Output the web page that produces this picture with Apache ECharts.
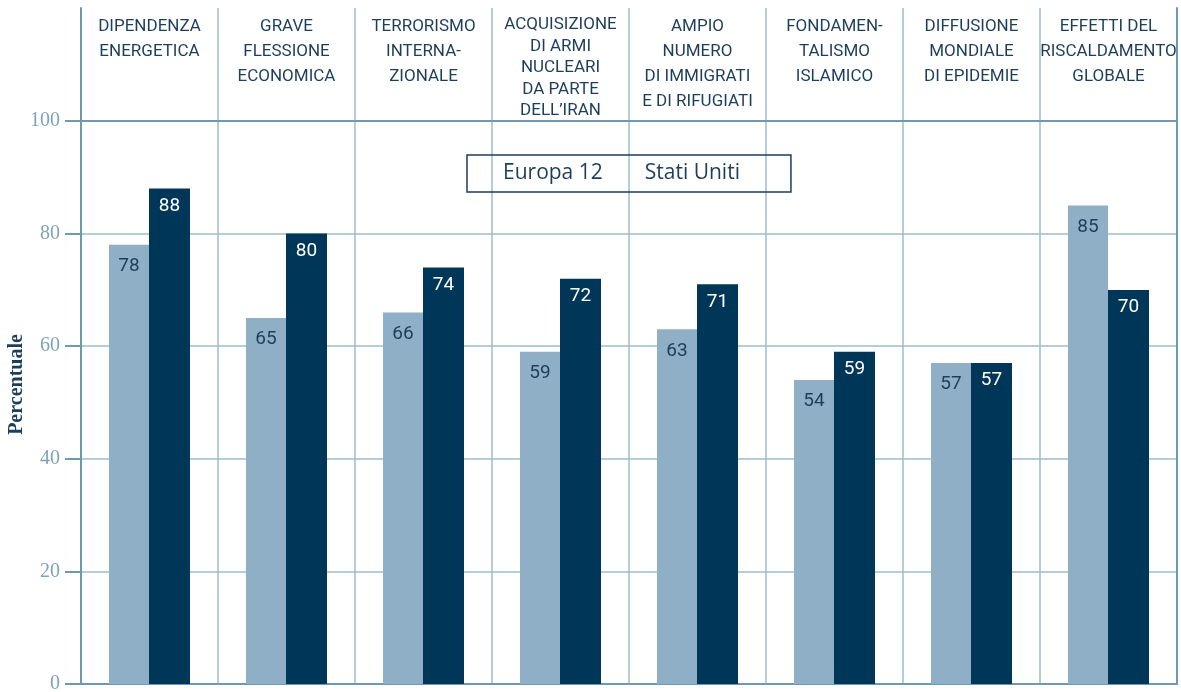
<!DOCTYPE html>
<html>
<head>
<meta charset="utf-8">
<script src="https://cdn.jsdelivr.net/npm/echarts@6/dist/echarts.min.js"></script>
<style>
  html, body { margin: 0; padding: 0; background: #fff; }
  #chart { width: 1181px; height: 692px; }
</style>
</head>
<body>
<div id="chart"></div>
<script>
// categorie (fascia in alto, su più righe)
var categorie = [
    'DIPENDENZA\nENERGETICA',
    'GRAVE\nFLESSIONE\nECONOMICA',
    'TERRORISMO\nINTERNA-\nZIONALE',
    'ACQUISIZIONE\nDI ARMI\nNUCLEARI\nDA PARTE\nDELL\u2019IRAN',
    'AMPIO\nNUMERO\nDI IMMIGRATI\nE DI RIFUGIATI',
    'FONDAMEN-\nTALISMO\nISLAMICO',
    'DIFFUSIONE\nMONDIALE\nDI EPIDEMIE',
    'EFFETTI DEL\nRISCALDAMENTO\nGLOBALE'
];
var europa12 = [78, 65, 66, 59, 63, 54, 57, 85];
var statiUniti = [88, 80, 74, 72, 71, 59, 57, 70];

var navy = '#1d3e5a';
var chiaro = '#8eafc5';
var scuro = '#003658';
var lineaAsse = '#6f99b3';
var lineaGriglia = '#9dbccd';

// asse solo-bordo (destra / sinistra della fascia)
function bordo(grid, pos) {
    return {
        type: 'value', gridIndex: grid, position: pos, min: 0, max: 1,
        axisLine: { show: true, lineStyle: { color: lineaAsse, width: 2 } },
        axisTick: { show: false }, axisLabel: { show: false }, splitLine: { show: false }
    };
}

var chart = echarts.init(document.getElementById('chart'));
var option = {
    animation: false,
    grid: [
        // fascia delle etichette
        { left: 81, right: 4, top: 8, height: 113, outerBoundsMode: 'none' },
        // area del grafico
        { left: 81, right: 4, top: 121, bottom: 8, outerBoundsMode: 'none' }
    ],
    legend: {
        data: ['Europa 12', 'Stati Uniti'],
        left: 467,
        top: 155,
        itemWidth: 0,
        itemHeight: 0,
        itemGap: 37,
        padding: [8, 51, 8, 31],
        borderColor: navy,
        borderWidth: 1.5,
        selectedMode: false,
        textStyle: { color: navy, fontSize: 21, fontFamily: 'Open Sans' }
    },
    xAxis: [
        {
            type: 'category',
            gridIndex: 0,
            data: categorie,
            position: 'top',
            axisLine: { show: true, lineStyle: { color: lineaAsse, width: 2 } },
            axisTick: { show: false },
            splitLine: { show: true, lineStyle: { color: lineaGriglia, width: 1.5 } },
            axisLabel: {
                inside: true,
                interval: 0,
                margin: 6,
                verticalAlign: 'top',
                color: navy,
                fontSize: 17,
                lineHeight: 25,
                fontFamily: 'Roboto',
                formatter: function (v) {
                    return v.split('\n').length > 4 ? '{stretto|' + v + '}' : v;
                },
                rich: {
                    stretto: { color: navy, fontSize: 17, lineHeight: 21.5, fontFamily: 'Roboto' }
                }
            }
        },
        {
            type: 'category',
            gridIndex: 1,
            data: categorie,
            position: 'bottom',
            axisLine: { show: true, lineStyle: { color: lineaAsse, width: 2 } },
            axisTick: { show: false },
            axisLabel: { show: false },
            splitLine: { show: true, lineStyle: { color: lineaGriglia, width: 1.5 } }
        }
    ],
    yAxis: [
        bordo(0, 'left'),
        bordo(0, 'right'),
        {
            type: 'value',
            gridIndex: 1,
            min: 0,
            max: 100,
            interval: 20,
            name: 'Percentuale',
            nameLocation: 'middle',
            nameMoveOverlap: false,
            nameGap: 54,
            nameTextStyle: {
                color: navy, fontSize: 20, fontWeight: 'bold',
                fontFamily: 'Liberation Serif',
                padding: [0, 0, 0, 36]
            },
            axisLine: { show: true, lineStyle: { color: lineaAsse, width: 2 } },
            axisTick: { show: true, inside: false, length: 16, lineStyle: { color: lineaAsse, width: 2 } },
            axisLabel: { margin: 21, color: '#7ea3bb', fontSize: 20, fontFamily: 'Liberation Serif' },
            splitLine: { show: true, lineStyle: { color: lineaGriglia, width: 1.5 } }
        },
        bordo(1, 'right')
    ],
    series: [
        {
            name: 'Europa 12',
            type: 'bar',
            xAxisIndex: 1,
            yAxisIndex: 2,
            data: europa12,
            barWidth: 40,
            barGap: '0%',
            itemStyle: { color: chiaro },
            label: {
                show: true, position: 'insideTop', distance: 12,
                color: navy, fontSize: 19, fontFamily: 'Roboto'
            }
        },
        {
            name: 'Stati Uniti',
            type: 'bar',
            xAxisIndex: 1,
            yAxisIndex: 2,
            data: statiUniti,
            barWidth: 41,
            barGap: '0%',
            itemStyle: { color: scuro },
            label: {
                show: true, position: 'insideTop', distance: 8,
                color: '#ffffff', fontSize: 19, fontFamily: 'Roboto'
            }
        }
    ]
};
chart.setOption(option);
</script>
</body>
</html>
